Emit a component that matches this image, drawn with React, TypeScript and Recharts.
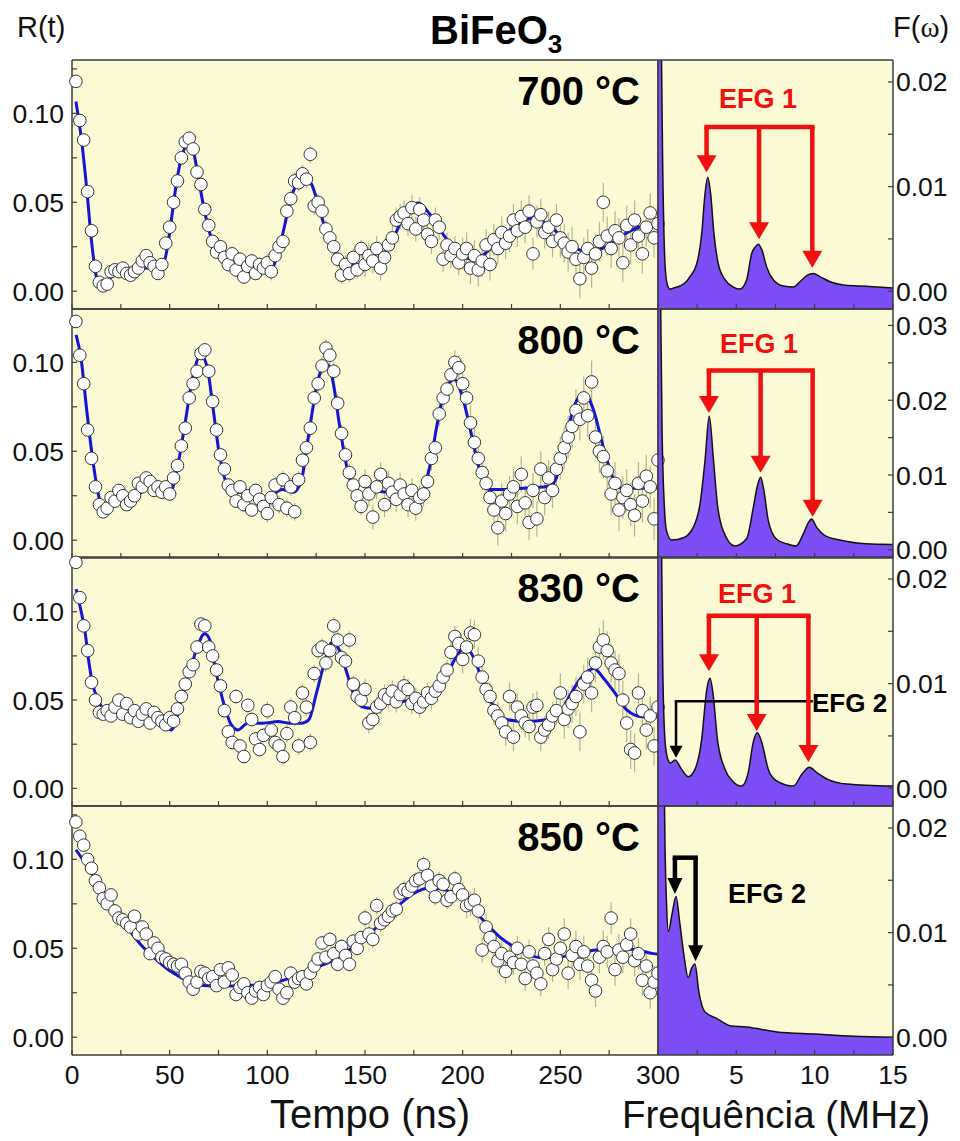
import React from 'react';
import {
  ComposedChart,
  Scatter,
  Line,
  Area,
  XAxis,
  YAxis,
  ErrorBar,
  ReferenceLine,
} from 'recharts';

const FONT = '"Liberation Sans", Arial, Helvetica, sans-serif';
const BG = '#fcfad4';
const FRAME = '#3c3c3c';
const BLUE = '#1414d8';
const PURPLE = '#7d4ef6';
const RED = '#f01010';

// sampling grid of the measured R(t) points (ns)
const sampleT = Array.from({ length: 150 }, (_, i) => 2 + 2 * i);

// measured R(t), one value per sample
const r700 = [
  0.118, 0.096, 0.085, 0.056, 0.034, 0.014, 0.005, 0.003, 0.004, 0.011,
  0.012, 0.011, 0.013, 0.010, 0.009, 0.011, 0.013, 0.017, 0.020, 0.016,
  0.014, 0.010, 0.015, 0.027, 0.036, 0.050, 0.062, 0.075, 0.084, 0.086,
  0.080, 0.067, 0.060, 0.046, 0.037, 0.028, 0.022, 0.025, 0.019, 0.015,
  0.021, 0.012, 0.018, 0.008, 0.014, 0.017, 0.010, 0.015, 0.013, 0.016,
  0.011, 0.020, 0.025, 0.028, 0.045, 0.052, 0.062, 0.061, 0.066, 0.063,
  0.077, 0.048, 0.050, 0.045, 0.035, 0.030, 0.025, 0.018, 0.009, 0.015,
  0.010, 0.019, 0.012, 0.024, 0.015, 0.020, 0.017, 0.024, 0.013, 0.019,
  0.026, 0.030, 0.040, 0.042, 0.044, 0.038, 0.047, 0.035, 0.046, 0.040,
  0.032, 0.028, 0.040, 0.036, 0.018, 0.026, 0.020, 0.024, 0.016, 0.021,
  0.024, 0.013, 0.020, 0.012, 0.017, 0.026, 0.015, 0.029, 0.024, 0.033,
  0.027, 0.031, 0.040, 0.034, 0.042, 0.036, 0.045, 0.021, 0.039, 0.043,
  0.033, 0.036, 0.028, 0.040, 0.030, 0.027, 0.022, 0.025, 0.018, 0.007,
  0.019, 0.024, 0.013, 0.021, 0.028, 0.050, 0.031, 0.024, 0.034, 0.030,
  0.016, 0.037, 0.026, 0.040, 0.031, 0.021, 0.036, 0.044, 0.030, 0.038,
];
const r800 = [
  0.123, 0.104, 0.088, 0.062, 0.046, 0.030, 0.020, 0.016, 0.018, 0.024,
  0.022, 0.028, 0.025, 0.020, 0.022, 0.025, 0.032, 0.030, 0.035, 0.033,
  0.028, 0.030, 0.027, 0.030, 0.026, 0.035, 0.042, 0.053, 0.063, 0.080,
  0.088, 0.095, 0.105, 0.107, 0.095, 0.078, 0.062, 0.048, 0.040, 0.031,
  0.028, 0.022, 0.030, 0.020, 0.025, 0.017, 0.028, 0.023, 0.019, 0.015,
  0.024, 0.031, 0.020, 0.034, 0.018, 0.030, 0.016, 0.034, 0.045, 0.052,
  0.063, 0.080, 0.088, 0.098, 0.108, 0.104, 0.095, 0.077, 0.060, 0.048,
  0.038, 0.031, 0.025, 0.019, 0.033, 0.026, 0.013, 0.030, 0.037, 0.020,
  0.032, 0.027, 0.023, 0.031, 0.026, 0.020, 0.028, 0.018, 0.024, 0.026,
  0.033, 0.046, 0.052, 0.071, 0.080, 0.085, 0.093, 0.100, 0.097, 0.088,
  0.080, 0.066, 0.055, 0.046, 0.038, 0.032, 0.024, 0.017, 0.007, 0.022,
  0.015, 0.026, 0.030, 0.019, 0.037, 0.021, 0.010, 0.028, 0.012, 0.040,
  0.024, 0.035, 0.028, 0.040, 0.046, 0.052, 0.058, 0.064, 0.073, 0.068,
  0.080, 0.070, 0.089, 0.058, 0.050, 0.047, 0.039, 0.026, 0.032, 0.017,
  0.024, 0.028, 0.020, 0.014, 0.032, 0.022, 0.036, 0.030, 0.012, 0.045,
];
const r830 = [
  0.128, 0.108, 0.092, 0.078, 0.060, 0.050, 0.043, 0.042, 0.044, 0.041,
  0.046, 0.050, 0.042, 0.048, 0.040, 0.044, 0.038, 0.042, 0.045, 0.037,
  0.043, 0.040, 0.038, 0.036, 0.040, 0.038, 0.045, 0.052, 0.059, 0.066,
  0.070, 0.080, 0.093, 0.092, 0.080, 0.075, 0.067, 0.058, 0.044, 0.032,
  0.026, 0.052, 0.024, 0.018, 0.047, 0.039, 0.028, 0.022, 0.030, 0.044,
  0.033, 0.026, 0.024, 0.018, 0.031, 0.046, 0.040, 0.024, 0.054, 0.046,
  0.026, 0.065, 0.078, 0.080, 0.071, 0.078, 0.092, 0.084, 0.074, 0.072,
  0.084, 0.059, 0.052, 0.050, 0.056, 0.037, 0.039, 0.046, 0.048, 0.053,
  0.051, 0.055, 0.049, 0.053, 0.058, 0.056, 0.048, 0.051, 0.046, 0.049,
  0.054, 0.051, 0.055, 0.058, 0.063, 0.067, 0.077, 0.086, 0.082, 0.073,
  0.080, 0.088, 0.087, 0.072, 0.063, 0.056, 0.052, 0.044, 0.041, 0.037,
  0.032, 0.052, 0.029, 0.046, 0.041, 0.037, 0.035, 0.046, 0.047, 0.029,
  0.033, 0.036, 0.041, 0.044, 0.054, 0.039, 0.045, 0.048, 0.052, 0.032,
  0.059, 0.063, 0.054, 0.071, 0.080, 0.084, 0.078, 0.071, 0.067, 0.065,
  0.050, 0.037, 0.022, 0.020, 0.054, 0.044, 0.033, 0.041, 0.024, 0.046,
];
const r850 = [
  0.121, 0.113, 0.108, 0.100, 0.095, 0.088, 0.084, 0.078, 0.075, 0.080,
  0.071, 0.067, 0.066, 0.064, 0.062, 0.068, 0.058, 0.062, 0.058, 0.047,
  0.053, 0.050, 0.045, 0.044, 0.042, 0.041, 0.040, 0.041, 0.036, 0.031,
  0.027, 0.031, 0.037, 0.036, 0.033, 0.034, 0.029, 0.038, 0.031, 0.039,
  0.035, 0.024, 0.028, 0.030, 0.025, 0.022, 0.026, 0.028, 0.024, 0.029,
  0.031, 0.034, 0.027, 0.022, 0.025, 0.036, 0.031, 0.033, 0.034, 0.030,
  0.036, 0.040, 0.044, 0.053, 0.045, 0.055, 0.047, 0.041, 0.051, 0.046,
  0.041, 0.054, 0.050, 0.056, 0.067, 0.058, 0.055, 0.074, 0.064, 0.066,
  0.068, 0.071, 0.072, 0.081, 0.083, 0.082, 0.085, 0.088, 0.089, 0.097,
  0.091, 0.085, 0.079, 0.088, 0.086, 0.077, 0.079, 0.089, 0.083, 0.080,
  0.074, 0.075, 0.077, 0.071, 0.049, 0.062, 0.056, 0.051, 0.043, 0.047,
  0.037, 0.045, 0.042, 0.050, 0.041, 0.033, 0.048, 0.040, 0.036, 0.030,
  0.047, 0.055, 0.038, 0.044, 0.050, 0.058, 0.036, 0.046, 0.051, 0.041,
  0.048, 0.040, 0.032, 0.026, 0.045, 0.051, 0.048, 0.067, 0.038, 0.049,
  0.045, 0.052, 0.058, 0.043, 0.047, 0.032, 0.040, 0.025, 0.031, 0.036,
];

// error bar half-length per 50 ns block
const err700 = [0.003, 0.004, 0.005, 0.007, 0.009, 0.011];
const err800 = [0.003, 0.004, 0.005, 0.007, 0.010, 0.012];
const err830 = [0.003, 0.004, 0.005, 0.006, 0.008, 0.011];
const err850 = [0.002, 0.003, 0.004, 0.005, 0.007, 0.009];

// fitted curves
const fitT700 = [2, 5, 7.5, 10, 12.6, 15.2, 17.7, 22, 25.4, 29.7, 34.8, 38.2, 42.5, 45.9, 48.5, 51, 53.6, 56.7, 59.6, 62.1, 64.7, 67.2, 69.8, 72.4, 76.6, 82.6, 91.1, 99.7, 103, 105.6, 108.2, 111.6, 115, 119.3, 122.7, 126.1, 129.5, 133.8, 138.9, 145.8, 152.6, 159.4, 166.2, 171.3, 177.3, 183.3, 190.1, 197, 205.5, 217.4, 227.7, 236.2, 244.7, 255, 265.2, 273.7, 284, 294.2, 300];
const fitR700 = [0.1067, 0.084, 0.058, 0.028, 0.0075, 0.0022, 0.0047, 0.0097, 0.0086, 0.0071, 0.0122, 0.0131, 0.0116, 0.0131, 0.0225, 0.0412, 0.0618, 0.0777, 0.0828, 0.0787, 0.0637, 0.0487, 0.0356, 0.0262, 0.0197, 0.0169, 0.014, 0.0122, 0.014, 0.0225, 0.0337, 0.0506, 0.06, 0.0637, 0.06, 0.0487, 0.0356, 0.0234, 0.0169, 0.015, 0.0159, 0.0206, 0.0337, 0.0459, 0.0496, 0.0431, 0.0318, 0.0225, 0.0178, 0.0271, 0.0375, 0.0412, 0.0365, 0.0262, 0.0215, 0.0253, 0.0328, 0.0369, 0.0365];
const fitT800 = [2.1, 4.6, 7.6, 10.5, 13.5, 16.4, 19.3, 24.2, 30.1, 36, 40.9, 45.8, 49.7, 53.6, 57.5, 61.4, 66, 69.3, 72.2, 75.2, 78.1, 82, 87.9, 92.8, 97.7, 102.6, 107.5, 113.4, 117.3, 121.2, 125.1, 128.1, 131, 133.9, 136.9, 140.8, 144.7, 148.6, 153.5, 160.4, 166.3, 172.2, 179, 183, 186.9, 190.8, 195.7, 200.5, 204.5, 208.4, 213.3, 221.1, 232.9, 244.6, 248.6, 252.5, 257.4, 262.3, 267.2, 272.1, 277, 281.9, 293.7, 300];
const fitR800 = [0.1155, 0.1024, 0.0725, 0.0462, 0.0257, 0.0167, 0.02, 0.0251, 0.0219, 0.0275, 0.0316, 0.0266, 0.0253, 0.0388, 0.0631, 0.0893, 0.1043, 0.0968, 0.0743, 0.05, 0.035, 0.0266, 0.0271, 0.0238, 0.0219, 0.0253, 0.0285, 0.027, 0.0331, 0.0594, 0.0856, 0.0968, 0.0987, 0.0875, 0.065, 0.0406, 0.0266, 0.0247, 0.0279, 0.0271, 0.0285, 0.0285, 0.0275, 0.0406, 0.065, 0.0837, 0.0903, 0.0781, 0.0594, 0.0406, 0.0285, 0.0285, 0.0294, 0.0303, 0.0369, 0.0556, 0.0762, 0.0828, 0.0725, 0.0519, 0.035, 0.029, 0.0294, 0.0294];
const fitT830 = [2.1, 4.6, 6.6, 8.5, 10.5, 13.5, 16.4, 20.3, 24.2, 28.1, 35, 39.9, 43.8, 47.7, 50.7, 53.6, 56.6, 60.5, 64.4, 67.9, 70.7, 73.2, 77.2, 81.1, 85, 89.9, 97.7, 105.5, 111.4, 117.3, 121.2, 125.1, 129.1, 133.4, 136.9, 140.8, 144.7, 148.6, 153.5, 160.4, 168.2, 176.1, 183.9, 187.8, 191.7, 196.6, 201.5, 205.5, 209.4, 213.3, 218.2, 223.1, 232.9, 242.7, 248.6, 254.5, 260.4, 267.2, 272.2, 278.1, 284, 291.8, 300];
const fitR830 = [0.1128, 0.1006, 0.0893, 0.0725, 0.0594, 0.05, 0.0448, 0.0444, 0.0444, 0.0406, 0.036, 0.0378, 0.0378, 0.035, 0.0331, 0.0397, 0.0538, 0.0669, 0.0809, 0.0875, 0.0837, 0.0687, 0.05, 0.0369, 0.0331, 0.0369, 0.0369, 0.0378, 0.0369, 0.0369, 0.0388, 0.0538, 0.0706, 0.0828, 0.0781, 0.065, 0.0519, 0.0462, 0.0453, 0.0481, 0.049, 0.05, 0.05, 0.0538, 0.0631, 0.0743, 0.0799, 0.0743, 0.0631, 0.0519, 0.0425, 0.0388, 0.0378, 0.0388, 0.0406, 0.0519, 0.0622, 0.0678, 0.0622, 0.0538, 0.0444, 0.0406, 0.0406];
const fitT850 = [2, 7.5, 14.3, 21.2, 28, 34.8, 41.6, 48.5, 55.3, 62.1, 72.4, 82.6, 92.8, 103.1, 113.3, 123.5, 133.8, 144, 154.3, 164.5, 174.7, 183.3, 191.8, 198.6, 208.9, 219.1, 229.4, 239.6, 248.1, 256.6, 266.9, 277.1, 287.4, 297.6, 300];
const fitR850 = [0.1054, 0.0966, 0.0844, 0.0732, 0.062, 0.0526, 0.0451, 0.0386, 0.0339, 0.0302, 0.0288, 0.0288, 0.0292, 0.0305, 0.0339, 0.0386, 0.0433, 0.0507, 0.0601, 0.0713, 0.0807, 0.0841, 0.0826, 0.0788, 0.0676, 0.0563, 0.0489, 0.0448, 0.0448, 0.0466, 0.0489, 0.0498, 0.0493, 0.047, 0.0466];

// Fourier spectra F(w)
const f700 = [0, 0.15, 0.3, 0.45, 0.6, 0.77, 1.0, 1.4, 1.8, 2.04, 2.47, 2.79, 3.0, 3.17, 3.36, 3.57, 3.85, 4.28, 4.81, 5.23, 5.66, 5.98, 6.25, 6.4, 6.62, 6.94, 7.36, 8.0, 8.64, 9.06, 9.49, 9.91, 10.34, 10.98, 11.83, 12.9, 14, 15];
const F700 = [0.04, 0.032, 0.012, 0.0025, 0.0006, 0.0002, 0.0003, 0.0005, 0.0009, 0.0014, 0.0026, 0.0055, 0.0093, 0.0109, 0.0093, 0.0055, 0.0026, 0.0011, 0.0004, 0.0002, 0.0011, 0.0036, 0.0043, 0.0045, 0.004, 0.0023, 0.0011, 0.0005, 0.0004, 0.0009, 0.0015, 0.0017, 0.0014, 0.0009, 0.0006, 0.0005, 0.0004, 0.0003];
const f800 = [0, 0.13, 0.26, 0.4, 0.55, 0.87, 1.62, 2.25, 2.68, 3.0, 3.27, 3.53, 3.79, 4.17, 4.91, 5.66, 6.08, 6.34, 6.55, 6.76, 7.04, 7.57, 8.21, 8.81, 9.27, 9.59, 9.8, 10.13, 10.66, 11.6, 13.3, 15];
const F800 = [0.05, 0.04, 0.016, 0.006, 0.0025, 0.0013, 0.0016, 0.003, 0.0061, 0.0119, 0.0179, 0.0123, 0.0061, 0.0025, 0.0005, 0.0015, 0.0056, 0.0085, 0.0097, 0.0079, 0.0039, 0.0014, 0.0008, 0.0005, 0.0021, 0.0036, 0.0041, 0.003, 0.0019, 0.0013, 0.0008, 0.0007];
const f830 = [0, 0.15, 0.3, 0.45, 0.62, 0.8, 1.09, 1.51, 1.93, 2.36, 2.79, 3.11, 3.32, 3.53, 3.79, 4.28, 4.81, 5.34, 5.76, 6.08, 6.34, 6.62, 7.04, 7.57, 8.64, 9.17, 9.66, 10.13, 10.77, 12.04, 15];
const F830 = [0.045, 0.035, 0.012, 0.0045, 0.0028, 0.0024, 0.0027, 0.0018, 0.0011, 0.0018, 0.0047, 0.0094, 0.0105, 0.0088, 0.0047, 0.0018, 0.0006, 0.0002, 0.0015, 0.0044, 0.0053, 0.0044, 0.0018, 0.0007, 0.0002, 0.0013, 0.002, 0.0015, 0.0009, 0.0004, 0.0002];
const f850 = [0, 0.2, 0.35, 0.45, 0.55, 0.66, 0.9, 1.15, 1.4, 1.65, 1.93, 2.15, 2.36, 2.6, 3.0, 3.74, 4.6, 5.65, 7.6, 10, 12.5, 15];
const F850 = [0.05, 0.045, 0.03, 0.018, 0.0125, 0.0101, 0.0118, 0.01345, 0.0108, 0.0079, 0.0057, 0.0066, 0.007, 0.0044, 0.0024, 0.0018, 0.0011, 0.00097, 0.0005, 0.0003, 0.0001, 0];

// axes
const timeTicks = [0, 25, 50, 75, 100, 125, 150, 175, 200, 225, 250, 275, 300];
const timeLabels = [0, 50, 100, 150, 200, 250, 300];
const rTicks = [0, 0.025, 0.05, 0.075, 0.1, 0.125];
const rLabels = [0, 0.05, 0.1];
const freqTicks = [0, 2.5, 5, 7.5, 10, 12.5, 15];
const freqLabels = [5, 10, 15];
const fTicksLow = [0, 0.005, 0.01, 0.015, 0.02];
const fTicksHigh = [0, 0.005, 0.01, 0.015, 0.02, 0.025, 0.03];
const fLabelsLow = [0, 0.01, 0.02];
const fLabelsHigh = [0, 0.01, 0.02, 0.03];

// EFG arrows: bar [from, to, y] and arrow tips [x, y] in (MHz, F) units
const efg1_700 = { bar: [3.1, 9.85, 0.0157], tips: [[3.1, 0.01138], [6.45, 0.00497], [9.85, 0.00224]] };
const efg1_800 = { bar: [3.25, 9.87, 0.02396], tips: [[3.25, 0.0183], [6.55, 0.0103], [9.87, 0.0044]] };
const efg1_830 = { bar: [3.25, 9.6, 0.01648], tips: [[3.25, 0.01117], [6.3, 0.00546], [9.6, 0.0025]] };
const efg2_830 = { bar: [1.15, 9.8, 0.00832], tips: [[1.15, 0.00292]] };
const efg2_850 = { bar: [1.08, 2.4, 0.01716], tips: [[1.08, 0.0137], [2.4, 0.00726]] };

const PLOT_TOPS = [60, 309, 557, 806];
const PLOT_H = 249;
const TIME_L = 72;
const SPLIT = 658;
const FREQ_R = 893;

type Efg = { bar: number[]; tips: number[][] };
type Panel = {
  temp: string;
  r: number[];
  err: number[];
  fitT: number[];
  fitR: number[];
  f: number[];
  F: number[];
  fDomain: [number, number];
  fTicks: number[];
  fLabels: number[];
  arrows: { efg: Efg; color: string; lw: number; hw: number; hh: number }[];
};

const panels: Panel[] = [
  {
    temp: '700 °C', r: r700, err: err700, fitT: fitT700, fitR: fitR700, f: f700, F: F700,
    fDomain: [-0.0017, 0.0221], fTicks: fTicksLow, fLabels: fLabelsLow,
    arrows: [{ efg: efg1_700, color: RED, lw: 4.5, hw: 20, hh: 17 }],
  },
  {
    temp: '800 °C', r: r800, err: err800, fitT: fitT800, fitR: fitR800, f: f800, F: F800,
    fDomain: [-0.0011, 0.0322], fTicks: fTicksHigh, fLabels: fLabelsHigh,
    arrows: [{ efg: efg1_800, color: RED, lw: 4.5, hw: 20, hh: 17 }],
  },
  {
    temp: '830 °C', r: r830, err: err830, fitT: fitT830, fitR: fitR830, f: f830, F: F830,
    fDomain: [-0.0017, 0.0221], fTicks: fTicksLow, fLabels: fLabelsLow,
    arrows: [
      { efg: efg2_830, color: '#000', lw: 2.5, hw: 13, hh: 12 },
      { efg: efg1_830, color: RED, lw: 4.5, hw: 20, hh: 17 },
    ],
  },
  {
    temp: '850 °C', r: r850, err: err850, fitT: fitT850, fitR: fitR850, f: f850, F: F850,
    fDomain: [-0.0017, 0.0221], fTicks: fTicksLow, fLabels: fLabelsLow,
    arrows: [{ efg: efg2_850, color: '#000', lw: 4.5, hw: 15, hh: 16 }],
  },
];

const TICK_FS = 26.5;
const axisLine = { stroke: FRAME, strokeWidth: 1.5 };
const tickLine = { stroke: FRAME, strokeWidth: 1.2 };

const blank = () => <g />;

const xTick = (labels: number[], show: boolean) => (p: any) => {
  const v = p.payload.value;
  if (!show || !labels.includes(v)) return <g />;
  return (
    <text x={p.x} y={p.y} dy={19} textAnchor="middle" fontSize={TICK_FS} fontFamily={FONT} fill="#111">
      {v}
    </text>
  );
};

const yTick = (labels: number[], anchor: 'start' | 'end') => (p: any) => {
  const v = p.payload.value;
  if (!labels.includes(v)) return <g />;
  return (
    <text x={p.x} y={p.y} dy={9.5} textAnchor={anchor} fontSize={TICK_FS} fontFamily={FONT} fill="#111">
      {v.toFixed(2)}
    </text>
  );
};

const dot = (p: any) => <circle cx={p.cx} cy={p.cy} r={6.3} fill="#fff" stroke="#333" strokeWidth={1} />;

const barShape = (color: string, lw: number) => (p: any) => (
  <line x1={p.x1} y1={p.y1} x2={p.x2} y2={p.y2} stroke={color} strokeWidth={lw} strokeLinecap="square" />
);

const arrowShape = (color: string, lw: number, hw: number, hh: number) => (p: any) => {
  const { x1, y1, x2, y2 } = p;
  return (
    <g>
      <line x1={x1} y1={y1} x2={x2} y2={y2 - hh + 2} stroke={color} strokeWidth={lw} />
      <polygon points={`${x2 - hw / 2},${y2 - hh} ${x2 + hw / 2},${y2 - hh} ${x2},${y2}`} fill={color} />
    </g>
  );
};

function TimePanel({ p, idx }: { p: Panel; idx: number }) {
  const last = idx === 3;
  const pts = sampleT.map((t, i) => ({ t, R: p.r[i], e: p.err[Math.min(5, Math.floor(t / 50))] }));
  const fit = p.fitT.map((t, i) => ({ t, R: p.fitR[i] }));
  const bottom = last ? 44 : 12;
  return (
    <div style={{ position: 'absolute', left: 0, top: PLOT_TOPS[idx] - 4 }}>
      <ComposedChart
        width={690}
        height={PLOT_H + 4 + bottom}
        margin={{ top: 4, right: 690 - SPLIT, bottom: last ? 0 : bottom, left: 0 }}
      >
        <Scatter data={pts} dataKey="R" shape={dot} isAnimationActive={false}>
          <ErrorBar dataKey="e" direction="y" width={0} stroke="#b4b48e" strokeWidth={1.2} />
        </Scatter>
        <Line
          data={fit}
          dataKey="R"
          type="monotone"
          stroke={BLUE}
          strokeWidth={3}
          dot={false}
          isAnimationActive={false}
        />
        <XAxis
          dataKey="t"
          type="number"
          domain={[0, 300]}
          ticks={timeTicks}
          interval={0}
          mirror={!last}
          height={last ? bottom : 10}
          axisLine={axisLine}
          tickLine={tickLine}
          tickSize={last ? -5 : 5}
          tickMargin={15}
          tick={xTick(timeLabels, last)}
        />
        <XAxis
          xAxisId="top"
          orientation="top"
          type="number"
          domain={[0, 300]}
          ticks={timeTicks}
          interval={0}
          mirror
          height={10}
          axisLine={axisLine}
          tickLine={tickLine}
          tickSize={5}
          tick={blank}
        />
        <YAxis
          type="number"
          domain={[-0.01, 0.13]}
          ticks={rTicks}
          interval={0}
          width={TIME_L}
          axisLine={axisLine}
          tickLine={tickLine}
          tickSize={-5}
          tickMargin={13}
          tick={yTick(rLabels, 'end')}
        />
        <YAxis
          yAxisId="right"
          orientation="right"
          type="number"
          domain={[-0.01, 0.13]}
          ticks={rTicks}
          interval={0}
          mirror
          width={10}
          axisLine={axisLine}
          tickLine={tickLine}
          tickSize={5}
          tick={blank}
        />
      </ComposedChart>
    </div>
  );
}

function FreqPanel({ p, idx }: { p: Panel; idx: number }) {
  const last = idx === 3;
  const spec = p.f.map((f, i) => ({ f, F: p.F[i] }));
  const bottom = last ? 44 : 12;
  const refs: React.ReactNode[] = [];
  p.arrows.forEach((a, k) => {
    const [x0, x1, y] = a.efg.bar;
    refs.push(
      <ReferenceLine
        key={`bar${k}`}
        yAxisId="F"
        segment={[{ x: x0, y }, { x: x1, y }]}
        shape={barShape(a.color, a.lw)}
      />,
    );
    a.efg.tips.forEach(([tx, ty], j) => {
      refs.push(
        <ReferenceLine
          key={`tip${k}-${j}`}
          yAxisId="F"
          segment={[{ x: tx, y }, { x: tx, y: ty }]}
          shape={arrowShape(a.color, a.lw, a.hw, a.hh)}
        />,
      );
    });
  });
  return (
    <div style={{ position: 'absolute', left: SPLIT - 2, top: PLOT_TOPS[idx] - 4 }}>
      <ComposedChart
        width={302}
        height={PLOT_H + 4 + bottom}
        margin={{ top: 4, right: 0, bottom: last ? 0 : bottom, left: 2 }}
      >
        <Area
          yAxisId="F"
          data={spec}
          dataKey="F"
          type="monotone"
          baseValue={p.fDomain[0]}
          fill={PURPLE}
          fillOpacity={1}
          stroke="#111"
          strokeWidth={1.5}
          isAnimationActive={false}
        />
        {refs}
        <XAxis
          dataKey="f"
          type="number"
          domain={[0, 15]}
          ticks={freqTicks}
          interval={0}
          allowDataOverflow
          mirror={!last}
          height={last ? bottom : 10}
          axisLine={axisLine}
          tickLine={tickLine}
          tickSize={last ? -5 : 5}
          tickMargin={15}
          tick={xTick(freqLabels, last)}
        />
        <XAxis
          xAxisId="top"
          orientation="top"
          type="number"
          domain={[0, 15]}
          ticks={freqTicks}
          interval={0}
          mirror
          height={10}
          axisLine={axisLine}
          tickLine={tickLine}
          tickSize={5}
          tick={blank}
        />
        <YAxis
          yAxisId="F"
          orientation="right"
          type="number"
          domain={p.fDomain}
          allowDataOverflow
          ticks={p.fTicks}
          interval={0}
          width={302 - 2 - (FREQ_R - SPLIT)}
          axisLine={axisLine}
          tickLine={tickLine}
          tickSize={-5}
          tickMargin={8}
          tick={yTick(p.fLabels, 'start')}
        />
        <YAxis
          yAxisId="m"
          orientation="left"
          type="number"
          domain={p.fDomain}
          mirror
          width={10}
          axisLine={axisLine}
          tickLine={false}
          tick={blank}
        />
      </ComposedChart>
    </div>
  );
}

export default function App() {
  return (
    <div style={{ position: 'absolute', left: 0, top: 0, width: 960, height: 1141, background: '#fff', fontFamily: FONT }}>
      {PLOT_TOPS.map((top, i) => (
        <div
          key={`bg${i}`}
          style={{ position: 'absolute', left: TIME_L, top, width: FREQ_R - TIME_L, height: PLOT_H, background: BG }}
        />
      ))}
      {panels.map((p, i) => (
        <TimePanel key={`t${i}`} p={p} idx={i} />
      ))}
      {panels.map((p, i) => (
        <FreqPanel key={`f${i}`} p={p} idx={i} />
      ))}
      <svg
        width={960}
        height={1141}
        style={{ position: 'absolute', left: 0, top: 0, pointerEvents: 'none' }}
        fontFamily={FONT}
      >
        <text x={17} y={37} fontSize={29} fill="#111">R(t)</text>
        <text x={893} y={37} fontSize={29} fill="#111">
          F(<tspan fontFamily='"Liberation Serif", serif'>ω</tspan>)
        </text>
        <text x={430} y={44} fontSize={40} fontWeight="bold" fill="#000">
          BiFeO<tspan fontSize={26} dy={9}>3</tspan>
        </text>
        {panels.map((p, i) => (
          <text key={`lab${i}`} x={640} y={PLOT_TOPS[i] + 45} textAnchor="end" fontSize={40} fontWeight="bold" fill="#000">
            {p.temp}
          </text>
        ))}
        <text x={758} y={108} textAnchor="middle" fontSize={27} fontWeight="bold" fill={RED}>EFG 1</text>
        <text x={759} y={353} textAnchor="middle" fontSize={27} fontWeight="bold" fill={RED}>EFG 1</text>
        <text x={757} y={603} textAnchor="middle" fontSize={27} fontWeight="bold" fill={RED}>EFG 1</text>
        <text x={812} y={712} fontSize={26} fontWeight="bold" fill="#000">EFG 2</text>
        <text x={728} y={903} fontSize={27} fontWeight="bold" fill="#000">EFG 2</text>
        <text x={370} y={1128} textAnchor="middle" fontSize={40} fill="#111">Tempo (ns)</text>
        <text x={776} y={1128} textAnchor="middle" fontSize={38.5} fill="#111">Frequência (MHz)</text>
      </svg>
    </div>
  );
}
